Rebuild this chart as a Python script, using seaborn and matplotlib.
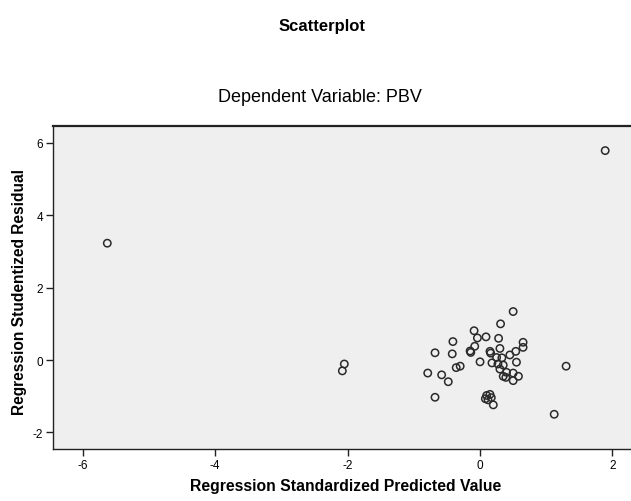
import matplotlib
matplotlib.use("Agg")
import matplotlib.pyplot as plt
import seaborn as sns
import pandas as pd

# Regression standardized predicted value (x) and studentized residual (y)
pred_values = [
    -5.63, 1.89, 1.30, 1.12, -2.05, -2.08,
    0.50, 0.31, -0.09, -0.04, 0.09, 0.28, -0.41, 0.65, 0.65,
    -0.68, -0.42, -0.15, -0.14, -0.08, 0.30, 0.15, 0.16, 0.54, 0.45,
    0.25, 0.33, 0.55, 0.00, 0.18, 0.27, 0.35, -0.36, -0.30, 0.30,
    0.40, 0.35, 0.39, 0.50, 0.58, 0.50, -0.79, -0.58, -0.48, -0.68,
    0.10, 0.15, 0.17, 0.08, 0.12, 0.20,
]
stud_residuals = [
    3.23, 5.79, -0.17, -1.50, -0.11, -0.30,
    1.34, 1.00, 0.81, 0.61, 0.64, 0.60, 0.51, 0.49, 0.35,
    0.20, 0.17, 0.25, 0.21, 0.38, 0.32, 0.24, 0.19, 0.24, 0.14,
    0.07, 0.06, -0.06, -0.05, -0.08, -0.11, -0.14, -0.21, -0.17, -0.25,
    -0.34, -0.45, -0.48, -0.36, -0.45, -0.57, -0.36, -0.41, -0.60, -1.03,
    -0.98, -0.95, -1.04, -1.07, -1.10, -1.24,
]
x_ticks = [-6, -4, -2, 0, 2]
y_ticks = [-2, 0, 2, 4, 6]

df = pd.DataFrame({"pred": pred_values, "resid": stud_residuals})

sns.set_style("white")
plt.rcParams["font.family"] = ["Liberation Sans", "DejaVu Sans"]
plt.rcParams["text.color"] = "black"
plt.rcParams["xtick.color"] = "black"
plt.rcParams["ytick.color"] = "black"

fig = plt.figure(figsize=(6.31, 5.02), dpi=100)
ax = fig.add_axes([53 / 631, 52 / 502, 1 - 53 / 631, (450 - 127) / 502])
ax.set_facecolor("#efefef")

sns.scatterplot(data=df, x="pred", y="resid", ax=ax, marker="o",
                s=28, facecolor="none", edgecolor="#2a2a2a", linewidth=1.1)

ax.set_xlim(-6.45, 2.28)
ax.set_ylim(-2.46, 6.47)
ax.set_xticks(x_ticks)
ax.set_yticks(y_ticks)
ax.set_xticklabels([str(t) for t in x_ticks], fontsize=8.5)
ax.set_yticklabels([str(t) for t in y_ticks], fontsize=8.5)
ax.tick_params(axis="both", direction="out", length=5, width=1, color="#222222",
               labelcolor="black", bottom=True, left=True, pad=2)

for side in ["left", "bottom", "top"]:
    ax.spines[side].set_visible(True)
    ax.spines[side].set_color("#222222")
    ax.spines[side].set_linewidth(1.0)
ax.spines["top"].set_linewidth(1.6)
ax.spines["right"].set_visible(False)

ax.set_xlabel("")
ax.set_ylabel("")
fig.text(346 / 631, 1 - 487 / 502, "Regression Standardized Predicted Value",
         ha="center", va="center", fontsize=11.3, fontweight="bold", color="black")
fig.text(20 / 631, 1 - 292 / 502, "Regression Studentized Residual",
         ha="center", va="center", rotation=90, fontsize=11.2, fontweight="bold",
         color="black")
fig.text(322 / 631, 1 - 27 / 502, "Scatterplot", ha="center", va="center",
         fontsize=12, fontweight="bold", color="black")
fig.text(320 / 631, 1 - 97 / 502, "Dependent Variable: PBV", ha="center",
         va="center", fontsize=13, color="black")

fig.savefig("out.png", dpi=100, facecolor="white")
